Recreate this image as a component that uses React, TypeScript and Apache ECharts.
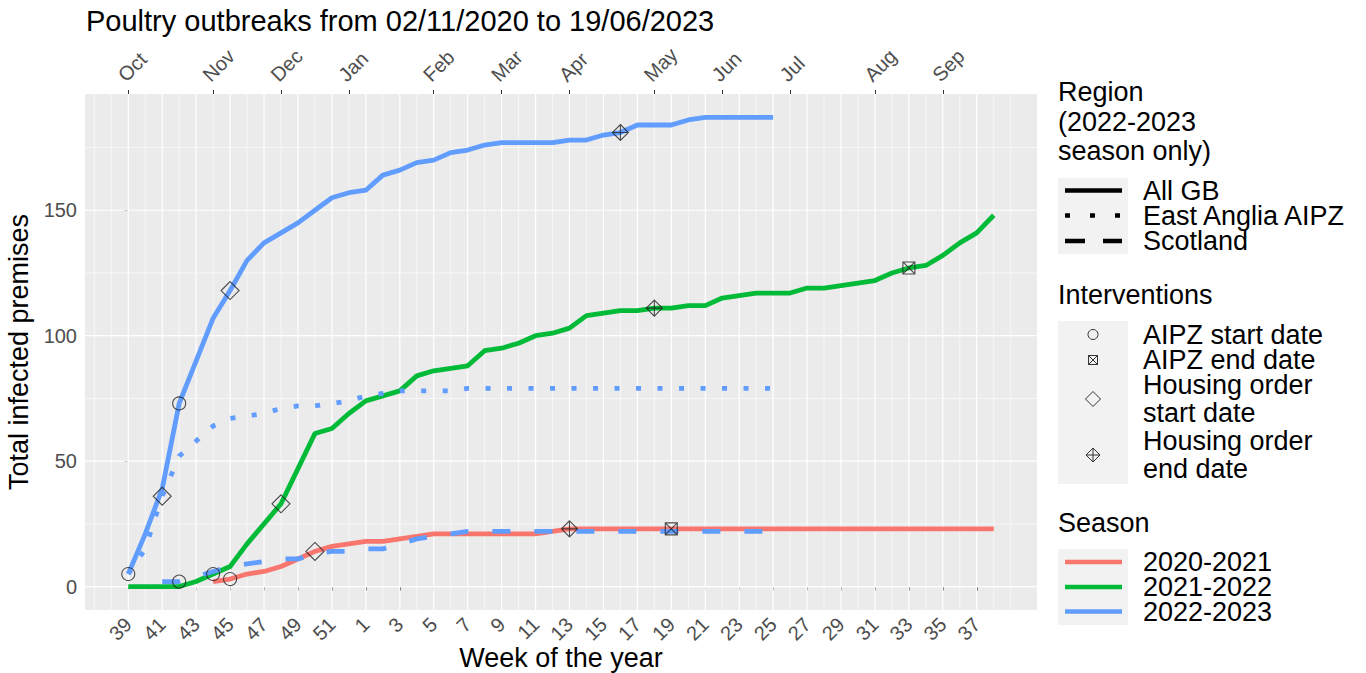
import React, { useEffect, useRef } from "react";
import * as echarts from "echarts";

const FONT = "'Liberation Sans', Arial, Helvetica, sans-serif";

// Week of the year for each x position (season runs week 39 -> week 38)
const weeks: number[] = [39, 40, 41, 42, 43, 44, 45, 46, 47, 48, 49, 50, 51, 52, 1, 2, 3, 4, 5, 6, 7, 8, 9, 10, 11, 12, 13, 14, 15, 16, 17, 18, 19, 20, 21, 22, 23, 24, 25, 26, 27, 28, 29, 30, 31, 32, 33, 34, 35, 36, 37, 38];
const bottomTickWeeks: number[] = [39, 41, 43, 45, 47, 49, 51, 1, 3, 5, 7, 9, 11, 13, 15, 17, 19, 21, 23, 25, 27, 29, 31, 33, 35, 37];
const monthLabels: string[] = ["Oct", "Nov", "Dec", "Jan", "Feb", "Mar", "Apr", "May", "Jun", "Jul", "Aug", "Sep"];
const monthStartWeeks: number[] = [39, 44, 48, 52, 5, 9, 13, 18, 22, 26, 31, 35];
const yTickValues: number[] = [0, 50, 100, 150];

// Cumulative infected premises per week
const season2020_21: (number | null)[] = [null, null, null, null, null, 2, 3, 5, 6, 8, 11, 14, 16, 17, 18, 18, 19, 20, 21, 21, 21, 21, 21, 21, 21, 22, 23, 23, 23, 23, 23, 23, 23, 23, 23, 23, 23, 23, 23, 23, 23, 23, 23, 23, 23, 23, 23, 23, 23, 23, 23, 23];
const season2021_22: number[] = [0, 0, 0, 0, 2, 5, 8, 17, 25, 33, 47, 61, 63, 69, 74, 76, 78, 84, 86, 87, 88, 94, 95, 97, 100, 101, 103, 108, 109, 110, 110, 111, 111, 112, 112, 115, 116, 117, 117, 117, 119, 119, 120, 121, 122, 125, 127, 128, 132, 137, 141, 148];
const allGB2022_23: number[] = [5, 21, 39, 73, 90, 107, 118, 130, 137, 141, 145, 150, 155, 157, 158, 164, 166, 169, 170, 173, 174, 176, 177, 177, 177, 177, 178, 178, 180, 181, 184, 184, 184, 186, 187, 187, 187, 187, 187];
const eastAnglia2022_23: number[] = [5, 15, 36, 52, 58, 64, 67, 68, 69, 71, 72, 72, 73, 74, 76, 77, 78, 78, 78, 78, 79, 79, 79, 79, 79, 79, 79, 79, 79, 79, 79, 79, 79, 79, 79, 79, 79, 79, 79];
const scotland2022_23: (number | null)[] = [null, null, 2, 2, 4, 6, 8, 9, 10, 11, 11, 13, 14, 14, 15, 15, 17, 19, 20, 21, 22, 22, 22, 22, 22, 22, 22, 22, 22, 22, 22, 22, 22, 22, 22, 22, 22, 22, 22];

// Interventions: [line, week]
const aipzStart: [string, number][] = [["eastAnglia", 39], ["allGB", 42], ["scotland", 42], ["s2122", 44], ["s2021", 45]];
const aipzEnd: [string, number][] = [["s2021", 19], ["s2122", 33]];
const housingStart: [string, number][] = [["eastAnglia", 41], ["allGB", 45], ["s2122", 48], ["s2021", 50]];
const housingEnd: [string, number][] = [["s2021", 13], ["allGB", 16], ["s2122", 18]];

const RED = "#F8766D";
const GREEN = "#00BA38";
const BLUE = "#619CFF";

const lineMap: Record<string, (number | null)[]> = {
  s2021: season2020_21,
  s2122: season2021_22,
  allGB: allGB2022_23,
  eastAnglia: eastAnglia2022_23,
  scotland: scotland2022_23,
};

const toPairs = (arr: (number | null)[]) => arr.map((v, i) => [i, v]);
const markerPoints = (list: [string, number][]) =>
  list.map(([k, w]) => {
    const i = weeks.indexOf(w);
    return [i, lineMap[k][i]];
  });

const bottomTickIdx = bottomTickWeeks.map((w) => weeks.indexOf(w));
const monthIdx = monthStartWeeks.map((w) => weeks.indexOf(w));

const X_MIN = -2.55;
const X_MAX = 53.55;
const Y_MIN = -9.35;
const Y_MAX = 196.35;

const vGrid: number[][] = [];
for (let v = -2; v <= 52; v++) vGrid.push([v, 0, v >= 0 && v <= 50 && v % 2 === 0 ? 1 : 0]);
const hGrid: number[][] = [];
for (let v = 0; v <= 175; v += 25) hGrid.push([0, v, v % 50 === 0 ? 1 : 0]);

const SQX = "path://M0 0L10 0L10 10L0 10ZM0 0L10 10M10 0L0 10";
const DPLUS = "path://M5 0L10 5L5 10L0 5ZM5 0L5 10M0 5L10 5";

function legendText(text: string, x: number, y: number, size = 27) {
  return {
    type: "text",
    x,
    y,
    silent: true,
    style: { text, fill: "#000", fontSize: size, fontFamily: FONT, align: "left", verticalAlign: "middle", lineHeight: 22 },
  };
}

function buildGraphic() {
  const g: any[] = [];
  const KX = 1058, KW = 70, LX1 = 1065, LX2 = 1122, TX = 1143, SX = 1093;
  // Region
  g.push(legendText("Region", 1058, 92));
  g.push(legendText("(2022-2023", 1058, 121.5));
  g.push(legendText("season only)", 1058, 151));
  g.push({ type: "rect", shape: { x: KX, y: 178, width: KW, height: 76 }, style: { fill: "#F2F2F2" }, silent: true });
  const regRows = [190.5, 215.5, 241];
  const regDash: any[] = [null, [5, 20], [20, 18]];
  const regLabels = ["All GB", "East Anglia AIPZ", "Scotland"];
  regRows.forEach((y, i) => {
    g.push({ type: "line", shape: { x1: LX1, y1: y, x2: LX2, y2: y }, style: { stroke: "#000", lineWidth: 4.5, lineDash: regDash[i], lineCap: "butt" }, silent: true });
    g.push(legendText(regLabels[i], TX, y));
  });
  // Interventions
  g.push(legendText("Interventions", 1058, 295));
  g.push({ type: "rect", shape: { x: KX, y: 321, width: KW, height: 163 }, style: { fill: "#F2F2F2" }, silent: true });
  const sym = { fill: "none", stroke: "#333", lineWidth: 1 };
  g.push({ type: "circle", shape: { cx: SX, cy: 334.5, r: 5 }, style: sym, silent: true });
  g.push({ type: "rect", shape: { x: SX - 4.5, y: 355.5, width: 9, height: 9 }, style: sym, silent: true });
  g.push({ type: "line", shape: { x1: SX - 4.5, y1: 355.5, x2: SX + 4.5, y2: 364.5 }, style: sym, silent: true });
  g.push({ type: "line", shape: { x1: SX + 4.5, y1: 355.5, x2: SX - 4.5, y2: 364.5 }, style: sym, silent: true });
  g.push({ type: "polygon", shape: { points: [[SX, 391.5], [SX + 7.5, 399], [SX, 406.5], [SX - 7.5, 399]] }, style: sym, silent: true });
  g.push({ type: "polygon", shape: { points: [[SX, 448], [SX + 7, 455], [SX, 462], [SX - 7, 455]] }, style: sym, silent: true });
  g.push({ type: "line", shape: { x1: SX, y1: 448, x2: SX, y2: 462 }, style: sym, silent: true });
  g.push({ type: "line", shape: { x1: SX - 7, y1: 455, x2: SX + 7, y2: 455 }, style: sym, silent: true });
  g.push(legendText("AIPZ start date", TX, 334.5));
  g.push(legendText("AIPZ end date", TX, 360));
  g.push(legendText("Housing order", TX, 385));
  g.push(legendText("start date", TX, 413));
  g.push(legendText("Housing order", TX, 440.5));
  g.push(legendText("end date", TX, 468.5));
  // Season
  g.push(legendText("Season", 1058, 523));
  g.push({ type: "rect", shape: { x: KX, y: 549, width: KW, height: 76 }, style: { fill: "#F2F2F2" }, silent: true });
  const seasonRows = [562, 587, 611.5];
  const seasonColors = [RED, GREEN, BLUE];
  const seasonLabels = ["2020-2021", "2021-2022", "2022-2023"];
  seasonRows.forEach((y, i) => {
    g.push({ type: "line", shape: { x1: LX1, y1: y, x2: LX2, y2: y }, style: { stroke: seasonColors[i], lineWidth: 4.5, lineCap: "butt" }, silent: true });
    g.push(legendText(seasonLabels[i], TX, y));
  });
  return g;
}

function gridSeries(data: number[][], vertical: boolean) {
  return {
    type: "custom",
    silent: true,
    z: 1,
    dimensions: ["x", "y", "m"],
    encode: { x: 0, y: 1 },
    data,
    renderItem: (params: any, api: any) => {
      const cs = params.coordSys;
      const p = api.coord([api.value(0), api.value(1)]);
      const major = api.value(2) === 1;
      const shape = vertical
        ? { x1: p[0], y1: cs.y, x2: p[0], y2: cs.y + cs.height }
        : { x1: cs.x, y1: p[1], x2: cs.x + cs.width, y2: p[1] };
      return { type: "line", shape, style: { stroke: "#FFFFFF", lineWidth: major ? 1.2 : 0.6 } };
    },
  };
}

function lineSeries(name: string, arr: (number | null)[], color: string, dash: any, z: number) {
  return {
    name,
    type: "line",
    data: toPairs(arr),
    showSymbol: false,
    symbol: "none",
    z,
    connectNulls: false,
    lineStyle: { color, width: 4.8, type: dash, cap: "butt", join: "round" },
    emphasis: { disabled: true },
  };
}

function markerSeries(name: string, pts: any[], symbol: string, size: number) {
  return {
    name,
    type: "scatter",
    data: pts,
    symbol,
    symbolSize: size,
    z: 10,
    itemStyle: { color: "rgba(0,0,0,0)", borderColor: "#222", borderWidth: 1.1 },
    emphasis: { disabled: true },
  };
}

export default function App() {
  const ref = useRef<HTMLDivElement>(null);
  useEffect(() => {
    if (!ref.current) return;
    const chart = echarts.init(ref.current, null, { renderer: "svg" });
    const axisLabelBase = { fontSize: 20, color: "#4D4D4D", fontFamily: FONT };
    const option: any = {
      animation: false,
      backgroundColor: "#FFFFFF",
      textStyle: { fontFamily: FONT },
      title: {
        text: "Poultry outbreaks from 02/11/2020 to 19/06/2023",
        left: 81,
        top: 1,
        textStyle: { fontSize: 29, fontWeight: "normal", color: "#000", fontFamily: FONT },
      },
      grid: { left: 85, top: 94, width: 952, height: 516, show: true, backgroundColor: "#EBEBEB", borderWidth: 0, containLabel: false, outerBoundsMode: "none" },
      xAxis: [
        {
          type: "value",
          position: "bottom",
          min: X_MIN,
          max: X_MAX,
          name: "Week of the year",
          nameLocation: "middle",
          nameGap: 34,
          nameMoveOverlap: false,
          nameTextStyle: { fontSize: 27, lineHeight: 27, color: "#000", fontFamily: FONT },
          axisLine: { show: false },
          axisTick: { show: true, length: 4, lineStyle: { color: "#333", width: 1 }, customValues: bottomTickIdx },
          axisLabel: { ...axisLabelBase, customValues: bottomTickIdx, rotate: 45, margin: 11, formatter: (v: number) => String(weeks[Math.round(v)]) },
          splitLine: { show: false },
        },
        {
          type: "value",
          position: "top",
          min: X_MIN,
          max: X_MAX,
          axisLine: { show: false },
          axisTick: { show: true, length: 4, lineStyle: { color: "#333", width: 1 }, customValues: monthIdx },
          axisLabel: { ...axisLabelBase, customValues: monthIdx, rotate: -45, margin: 9, verticalAlign: "bottom", formatter: (v: number) => monthLabels[monthIdx.indexOf(Math.round(v))] },
          splitLine: { show: false },
        },
      ],
      yAxis: {
        type: "value",
        min: Y_MIN,
        max: Y_MAX,
        name: "Total infected premises",
        nameLocation: "middle",
        nameGap: 52,
        nameRotate: 90,
        nameTextStyle: { fontSize: 27, color: "#000", fontFamily: FONT },
        axisLine: { show: false },
        axisTick: { show: true, length: 4, lineStyle: { color: "#333", width: 1 }, customValues: yTickValues },
        axisLabel: { ...axisLabelBase, customValues: yTickValues, margin: 8 },
        splitLine: { show: false },
      },
      graphic: buildGraphic(),
      series: [
        gridSeries(vGrid, true),
        gridSeries(hGrid, false),
        lineSeries("2020-2021", season2020_21, RED, "solid", 3),
        lineSeries("2021-2022", season2021_22, GREEN, "solid", 3),
        lineSeries("Scotland", scotland2022_23, BLUE, [18, 24], 4),
        lineSeries("East Anglia AIPZ", eastAnglia2022_23, BLUE, [5, 16.5], 4),
        lineSeries("All GB", allGB2022_23, BLUE, "solid", 4),
        markerSeries("AIPZ start date", markerPoints(aipzStart), "circle", 13),
        markerSeries("AIPZ end date", markerPoints(aipzEnd), SQX, 12),
        markerSeries("Housing order start date", markerPoints(housingStart), "diamond", 18),
        markerSeries("Housing order end date", markerPoints(housingEnd), DPLUS, 16),
      ],
    };
    chart.setOption(option);
    return () => chart.dispose();
  }, []);
  return <div ref={ref} style={{ position: "fixed", left: 0, top: 0, width: 1366, height: 673 }} />;
}
